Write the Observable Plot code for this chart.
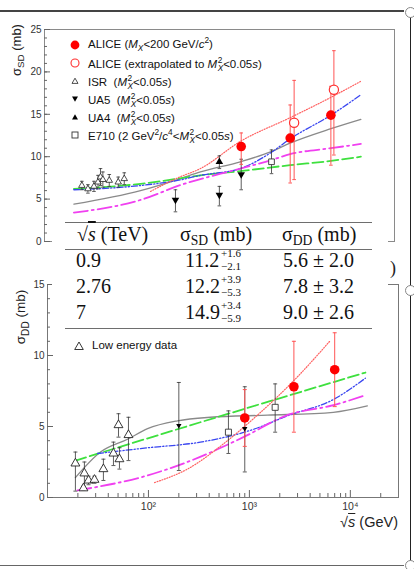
<!DOCTYPE html>
<html>
<head>
<meta charset="utf-8">
<script src="https://cdn.jsdelivr.net/npm/d3@7"></script>
<script src="https://cdn.jsdelivr.net/npm/@observablehq/plot@0.6"></script>
<style>
  html, body { margin:0; padding:0; background:#fff; }
  #wrap { position:relative; width:414px; height:569px; overflow:hidden; background:#fff;
          font-family:"Liberation Sans", Arial, sans-serif; color:#111; }
  .abs { position:absolute; white-space:nowrap; }
  .ss { display:inline-block; vertical-align:-0.34em; font-size:0.72em; line-height:0.92; text-align:left; margin-left:0.5px; }
  .ss > span { display:block; }
  sub, sup { font-size:0.72em; line-height:0; }
  .ol { text-decoration: overline; }
</style>
</head>
<body>
<div id="wrap"></div>
<script>
// ================= DATA =================
// Table / ALICE measurements
const aliceTeV   = ["0.9", "2.76", "7"];
const aliceGeV   = [900, 2760, 7000];
const aliceSD    = [11.2, 12.2, 14.9];
const aliceSDup  = [1.6, 3.9, 3.4];
const aliceSDdn  = [2.1, 5.3, 5.9];
const aliceDD    = [5.6, 7.8, 9.0];
const aliceDDerr = [2.0, 3.2, 2.6];

// ALICE extrapolated to M_X^2 < 0.05 s
const aliceExtGeV = [3020, 7500];
const aliceExtSD  = [14.0, 17.9];
const aliceExtLo  = [7.3, 10.2];
const aliceExtHi  = [19.0, 22.5];

// ISR (SD)
const isrGeV = [23.5, 27, 31, 34, 36, 38, 44, 54, 62];
const isrSD  = [6.6, 6.2, 6.5, 7.0, 7.6, 7.3, 7.2, 7.0, 7.4];
const isrErr = [0.5, 0.5, 0.6, 0.8, 1.0, 0.9, 0.7, 0.6, 0.7];

// UA5 (SD)
const ua5GeV  = [200, 546, 900];
const ua5SD   = [4.9, 5.5, 7.9];
const ua5SDlo = [3.5, 4.2, 6.1];
const ua5SDhi = [6.1, 6.5, 9.7];

// UA4 (SD)
const ua4GeV = [546];
const ua4SD = [9.4];
const ua4SDlo = [8.6];
const ua4SDhi = [10.1];

// E710 (SD)
const e710GeV = [1800];
const e710SD = [9.4];
const e710SDlo = [8.0];
const e710SDhi = [10.8];

// Model curves, SD panel
const sdGrayGeV = [19.6, 90, 210, 354, 881, 1786, 2754, 7010, 13900];
const sdGray    = [4.4, 6.0, 7.3, 8.2, 9.4, 10.6, 11.6, 13.3, 14.4];
const sdGreenGeV = [19.6, 90, 210, 354, 881, 2754, 7010, 13900];
const sdGreen    = [6.2, 6.8, 7.4, 7.8, 8.3, 9.0, 9.5, 10.0];
const sdBlueGeV = [19.6, 90, 210, 354, 881, 1786, 2754, 7010, 13900];
const sdBlue    = [6.1, 6.6, 7.2, 7.8, 8.6, 10.5, 12.1, 14.9, 17.3];
const sdMagGeV = [19.6, 90, 230, 881, 1786, 2754, 7010, 13900];
const sdMag    = [3.4, 4.9, 6.7, 8.6, 9.6, 10.3, 11.0, 11.5];
const sdRedGeV = [113, 210, 354, 881, 2754, 7010, 13900];
const sdRed    = [5.9, 7.5, 8.6, 11.8, 14.6, 17.0, 18.9];

// DD panel: low energy data
const lowGeV  = [18.9, 23.2, 22.7, 25.5, 29.2, 35.8, 45, 50.5, 51.6, 63.4];
const lowDD   = [2.4, 1.7, 0.65, 1.2, 1.25, 2.0, 3.1, 5.1, 2.7, 4.4];
const lowDDlo = [0.45, 0.6, 0.5, 0.9, 1.0, 1.2, 2.25, 4.25, 2.0, 2.6];
const lowDDhi = [3.2, 2.5, 0.8, 1.5, 1.5, 2.7, 3.9, 5.9, 3.5, 5.65];

// DD panel: UA5 and E710
const ua5DDGeV = [200, 900];
const ua5DD    = [5.07, 4.85];
const ua5DDlo  = [1.9, 1.8];
const ua5DDhi  = [8.1, 7.8];
const e710DDGeV = [620, 1800];
const e710DD    = [4.6, 6.35];
const e710DDlo  = [3.1, 4.6];
const e710DDhi  = [6.1, 8.0];

// Model curves, DD panel
const ddGrayGeV = [18.9, 33.5, 62, 98, 194, 411, 1508, 6792, 14740];
const ddGray    = [1.4, 3.2, 4.1, 4.85, 5.4, 5.65, 5.8, 6.0, 6.45];
const ddGreenGeV = [18.9, 327, 14100];
const ddGreen    = [2.6, 5.3, 8.8];
const ddBlueGeV = [31.3, 98, 327, 1097, 2377, 6792, 14090];
const ddBlue    = [3.1, 3.5, 3.9, 4.8, 5.75, 6.9, 8.4];
const ddMagGeV = [19.8, 97.7, 243, 873, 2377, 6792, 14090];
const ddMag    = [0.5, 1.55, 2.5, 4.25, 5.8, 6.5, 7.2];
const ddRedGeV = [115, 243, 606, 1097, 2727, 6339];
const ddRed    = [1.05, 2.0, 4.0, 5.55, 8.2, 11.05];

// Axis ticks
const sdTicks = [0, 5, 10, 15, 20, 25];
const ddTicks = [0, 5, 10, 15];
const xMajor = [100, 1000, 10000];
const xMajorLabels = ["10²", "10³", "10⁴"];
const xMinor = [20,30,40,50,60,70,80,90,200,300,400,500,600,700,800,900,2000,3000,4000,5000,6000,7000,8000,9000,20000];

// Legend texts
const sdLegend = [
  ["fcircle", 'ALICE (<i>M</i><sub><i>X</i></sub>&lt;200 GeV/<i>c</i><sup>2</sup>)'],
  ["ocircle", 'ALICE (extrapolated to <i>M</i><span class="ss"><span>2</span><span><i>X</i></span></span>&lt;0.05<i>s</i>)'],
  ["otri",    'ISR&nbsp; (<i>M</i><span class="ss"><span>2</span><span><i>X</i></span></span>&lt;0.05<i>s</i>)'],
  ["ftriDown",'UA5&nbsp; (<i>M</i><span class="ss"><span>2</span><span><i>X</i></span></span>&lt;0.05<i>s</i>)'],
  ["ftriUp",  'UA4&nbsp; (<i>M</i><span class="ss"><span>2</span><span><i>X</i></span></span>&lt;0.05<i>s</i>)'],
  ["osquare", 'E710 (2 GeV<sup>2</sup>/<i>c</i><sup>4</sup>&lt;<i>M</i><span class="ss"><span>2</span><span><i>X</i></span></span>&lt;0.05<i>s</i>)']
];
const ddLegend = [["otriBig", "Low energy data"]];

// ================= HELPERS =================
const W = 414, H = 569;
const xDomain = [10, 30000];
const zip = (xs, ys) => xs.map((x, i) => ({x, y: ys[i]}));
const zipErr = (xs, ys, lo, hi) => xs.map((x, i) => ({x, y: ys[i], lo: lo[i], hi: hi[i]}));
const capSymbol = { draw(ctx, size) { const w = Math.sqrt(size / Math.PI); ctx.moveTo(-w, 0); ctx.lineTo(w, 0); } };

const styles = {
  gray:  {stroke: "#8a8a8a", strokeWidth: 1.3},
  green: {stroke: "#3ee03e", strokeWidth: 1.8, strokeDasharray: "11,4"},
  blue:  {stroke: "#3a46f0", strokeWidth: 1.3, strokeDasharray: "6,2,1.2,2,1.2,2"},
  mag:   {stroke: "#f040f0", strokeWidth: 1.8, strokeDasharray: "14,4,2,4"},
  red:   {stroke: "#ff6060", strokeWidth: 1.2, strokeDasharray: "1,1.6"}
};
function curve(xs, ys, st) {
  return Plot.line(zip(xs, ys), {x: "x", y: "y", curve: "monotone-x", fill: "none", ...st});
}
function errs(data, color, w = 0.9, cap = 2) {
  return [
    Plot.ruleX(data, {x: "x", y1: "lo", y2: "hi", stroke: color, strokeWidth: w}),
    Plot.dot(data, {x: "x", y: "lo", symbol: capSymbol, r: cap, stroke: color, strokeWidth: w, fill: "none"}),
    Plot.dot(data, {x: "x", y: "hi", symbol: capSymbol, r: cap, stroke: color, strokeWidth: w, fill: "none"})
  ];
}
const svgStyle = {background: "transparent", fontFamily: "'Liberation Sans', Arial, sans-serif", fontSize: "10px", color: "#333", overflow: "visible"};

// ================= TOP PANEL (SD) =================
const aliceSDdata = aliceGeV.map((x, i) => ({x, y: aliceSD[i], lo: aliceSD[i] - aliceSDdn[i], hi: aliceSD[i] + aliceSDup[i]}));
const aliceExt = zipErr(aliceExtGeV, aliceExtSD, aliceExtLo, aliceExtHi);
const isr = isrGeV.map((x, i) => ({x, y: isrSD[i], lo: isrSD[i] - isrErr[i], hi: isrSD[i] + isrErr[i]}));
const ua5 = zipErr(ua5GeV, ua5SD, ua5SDlo, ua5SDhi);
const ua4 = zipErr(ua4GeV, ua4SD, ua4SDlo, ua4SDhi);
const e710 = zipErr(e710GeV, e710SD, e710SDlo, e710SDhi);

const topPlot = Plot.plot({
  width: W, height: H,
  marginLeft: 44, marginRight: 20, marginTop: 29, marginBottom: H - 241,
  x: {type: "log", domain: xDomain, axis: null},
  y: {domain: [0, 25]},
  style: svgStyle,
  marks: [
    Plot.frame({stroke: "#8a8a8a", strokeWidth: 1}),
    Plot.axisY(sdTicks, {tickSize: -6, tickPadding: 9, label: null, stroke: "#666", fill: "#333"}),
    Plot.axisY(d3.range(0, 26), {tickSize: -3, tickFormat: () => "", label: null, stroke: "#666"}),
    curve(sdGrayGeV, sdGray, styles.gray),
    curve(sdGreenGeV, sdGreen, styles.green),
    curve(sdBlueGeV, sdBlue, styles.blue),
    curve(sdMagGeV, sdMag, styles.mag),
    curve(sdRedGeV, sdRed, styles.red),
    ...errs(isr, "#333", 0.8, 1.8),
    ...errs(ua5, "#333", 0.8, 1.8),
    ...errs(ua4, "#333", 0.8, 1.8),
    ...errs(e710, "#333", 0.8, 1.8),
    ...errs(aliceExt, "#ff5555", 1, 1.8),
    ...errs(aliceSDdata, "#ff5555", 1, 1.8),
    Plot.dot(isr, {x: "x", y: "y", symbol: "triangle", r: 2.4, stroke: "#222", fill: "white", strokeWidth: 0.8}),
    Plot.dot(ua5, {x: "x", y: "y", symbol: "triangle", rotate: 180, r: 2.8, fill: "#000", stroke: "none"}),
    Plot.dot(ua4, {x: "x", y: "y", symbol: "triangle", r: 2.8, fill: "#000", stroke: "none"}),
    Plot.dot(e710, {x: "x", y: "y", symbol: "square", r: 3.2, stroke: "#333", fill: "white", strokeWidth: 0.9}),
    Plot.dot(aliceExt, {x: "x", y: "y", r: 4.6, stroke: "#ff3030", fill: "white", strokeWidth: 1.2}),
    Plot.dot(aliceSDdata, {x: "x", y: "y", r: 4.8, fill: "#ff0000", stroke: "none"})
  ]
});

// ================= BOTTOM PANEL (DD) =================
const aliceDDdata = aliceGeV.map((x, i) => ({x, y: aliceDD[i], lo: aliceDD[i] - aliceDDerr[i], hi: aliceDD[i] + aliceDDerr[i]}));
const low = zipErr(lowGeV, lowDD, lowDDlo, lowDDhi);
const ua5DDd = zipErr(ua5DDGeV, ua5DD, ua5DDlo, ua5DDhi);
const e710DDd = zipErr(e710DDGeV, e710DD, e710DDlo, e710DDhi);

const botPlot = Plot.plot({
  width: W, height: H,
  marginLeft: 47, marginRight: 16, marginTop: 284, marginBottom: H - 497,
  x: {type: "log", domain: xDomain},
  y: {domain: [0, 15]},
  style: svgStyle,
  marks: [
    Plot.frame({stroke: "#777", strokeWidth: 1}),
    Plot.axisY(ddTicks, {tickSize: -6, tickPadding: 9, label: null, stroke: "#666", fill: "#333"}),
    Plot.axisY(d3.range(0, 16), {tickSize: -3, tickFormat: () => "", label: null, stroke: "#666"}),
    Plot.axisX(xMajor, {tickSize: -7, tickPadding: 12, label: null, stroke: "#666", fill: "#333", fontSize: 10.5,
      tickFormat: d => xMajorLabels[xMajor.indexOf(d)]}),
    Plot.axisX(xMinor, {tickSize: -4, tickFormat: () => "", label: null, stroke: "#666"}),
    curve(ddGrayGeV, ddGray, styles.gray),
    curve(ddGreenGeV, ddGreen, styles.green),
    curve(ddBlueGeV, ddBlue, styles.blue),
    curve(ddMagGeV, ddMag, styles.mag),
    curve(ddRedGeV, ddRed, styles.red),
    ...errs(low, "#333", 0.8, 2),
    ...errs(ua5DDd, "#333", 0.8, 2),
    ...errs(e710DDd, "#333", 0.8, 2),
    ...errs(aliceDDdata, "#ff5555", 1, 2),
    Plot.dot(low, {x: "x", y: "y", symbol: "triangle", r: 3.3, stroke: "#222", fill: "white", strokeWidth: 0.9}),
    Plot.dot(ua5DDd, {x: "x", y: "y", symbol: "triangle", rotate: 180, r: 2, fill: "#000", stroke: "none"}),
    Plot.dot(e710DDd, {x: "x", y: "y", symbol: "square", r: 3.4, stroke: "#333", fill: "white", strokeWidth: 0.9}),
    Plot.dot(aliceDDdata, {x: "x", y: "y", r: 4.8, fill: "#ff0000", stroke: "none"})
  ]
});

// ================= ASSEMBLY =================
const wrap = document.getElementById("wrap");
for (const p of [topPlot, botPlot]) {
  p.style.position = "absolute"; p.style.left = "0px"; p.style.top = "0px";
  wrap.appendChild(p);
}
function box(x, y, w, h, css) {
  const d = document.createElement("div");
  d.className = "abs";
  d.style.cssText += `left:${x}px;top:${y}px;width:${w}px;height:${h}px;` + (css || "");
  wrap.appendChild(d);
  return d;
}
// Font metrics (ascent, descent) in em
const METRICS = {serif: [0.891, 0.216], sans: [0.905, 0.212]};
// place text with its (first) baseline at y; lh = line-height in px
function text(html, x, baseline, size, fam, css, lh) {
  const [asc, desc] = METRICS[fam];
  lh = lh || size;
  const off = (lh - (asc + desc) * size) / 2 + asc * size;
  const d = document.createElement("div");
  d.className = "abs";
  d.innerHTML = html;
  const family = fam === "serif" ? "'Liberation Serif','Times New Roman',serif" : "'Liberation Sans',Arial,sans-serif";
  d.style.cssText += `left:${x}px;top:${baseline - off}px;font-size:${size}px;line-height:${lh}px;font-family:${family};` + (css || "");
  wrap.appendChild(d);
  return d;
}

// Axis titles
function vlabel(html, cx, cy, size) {
  const d = document.createElement("div");
  d.className = "abs";
  d.innerHTML = html;
  d.style.cssText += `left:${cx}px;top:${cy}px;font-size:${size}px;line-height:1;font-family:'Liberation Sans',Arial,sans-serif;color:#222;transform:translate(-50%,-50%) rotate(-90deg);`;
  wrap.appendChild(d);
}
vlabel('σ<sub style="font-size:0.75em;vertical-align:-0.35em">SD</sub> (mb)', 16, 50, 13);
vlabel('σ<sub style="font-size:0.75em;vertical-align:-0.35em">DD</sub> (mb)', 21, 317, 13.5);
const xt = text('√<span class="ol"><i>s</i></span> (GeV)', 0, 527, 14.5, "sans", "color:#222;");
xt.style.left = ""; xt.style.right = (W - 398) + "px";

// Legends
function marker(kind) {
  let inner = "";
  if (kind === "fcircle") inner = '<circle cx="5" cy="5" r="4.4" fill="#ff0000"/>';
  if (kind === "ocircle") inner = '<circle cx="5" cy="5" r="4" fill="white" stroke="#ff3030" stroke-width="1.1"/>';
  if (kind === "otri") inner = '<path d="M5,2.2 L8,7.4 L2,7.4 Z" fill="white" stroke="#222" stroke-width="0.8"/>';
  if (kind === "otriBig") inner = '<path d="M5,1 L9.3,8.5 L0.7,8.5 Z" fill="white" stroke="#222" stroke-width="0.9"/>';
  if (kind === "ftriDown") inner = '<path d="M2,2.5 L8,2.5 L5,7.8 Z" fill="#000"/>';
  if (kind === "ftriUp") inner = '<path d="M5,2.2 L8,7.5 L2,7.5 Z" fill="#000"/>';
  if (kind === "osquare") inner = '<rect x="2" y="2" width="6" height="6" fill="white" stroke="#333" stroke-width="0.9"/>';
  return `<svg width="10" height="10" viewBox="0 0 10 10" style="display:block">${inner}</svg>`;
}
const sdLegendY = [45, 63, 81, 99, 117, 135];
sdLegend.forEach(([k, html], i) => {
  const cy = sdLegendY[i];
  const m = box(70, cy - 5, 10, 10); m.innerHTML = marker(k);
  text(html, 88, cy + 4, 11.5, "sans", "color:#111;");
});
ddLegend.forEach(([k, html]) => {
  const m = box(74, 341, 10, 10); m.innerHTML = marker(k);
  text(html, 92, 350, 11.5, "sans", "color:#111;");
});

// Table (white box over the panels)
box(52, 215, 336, 116, "background:#fff;");
box(65, 221.5, 307, 1.4, "background:#6e6e6e;");
box(65, 248.5, 307, 1.4, "background:#6e6e6e;");
box(65, 327.5, 307, 1.4, "background:#6e6e6e;");
text('√<span class="ol"><i>s</i></span> (TeV)', 77, 241, 20, "serif", "", 18);
text('σ<span style="font-size:0.68em;vertical-align:-0.3em">SD</span> (mb)', 180, 241, 20, "serif", "", 18);
text('σ<span style="font-size:0.68em;vertical-align:-0.3em">DD</span> (mb)', 282, 241, 20, "serif", "", 18);
const rowBase = [267, 293, 319];
aliceTeV.forEach((t, i) => {
  const b = rowBase[i];
  text(t, 76, b, 20, "serif", "", 16);
  text(aliceSD[i].toFixed(1), 185, b, 20, "serif", "", 16);
  text("+" + aliceSDup[i].toFixed(1), 221, b - 9.6, 11, "serif", "", 9);
  text("−" + aliceSDdn[i].toFixed(1), 221, b + 3, 11, "serif", "", 9);
  text(aliceDD[i].toFixed(1) + " ± " + aliceDDerr[i].toFixed(1), 283, b, 20, "serif", "", 16);
});
text(")", 390, 274, 18, "serif", "color:#222;");

// Slide / selection decorations
box(0, 10, 404, 2, "background:#444;");
box(409.5, 17, 1.8, 548, "background:#222;");
box(0, 564.5, 404, 1.5, "background:#666;");
for (const cy of [12, 290, 565]) box(404.5, cy - 5.5, 11, 11, "border-radius:50%;border:1.5px solid #888;background:#fff;box-sizing:border-box;");
</script>
</body>
</html>
